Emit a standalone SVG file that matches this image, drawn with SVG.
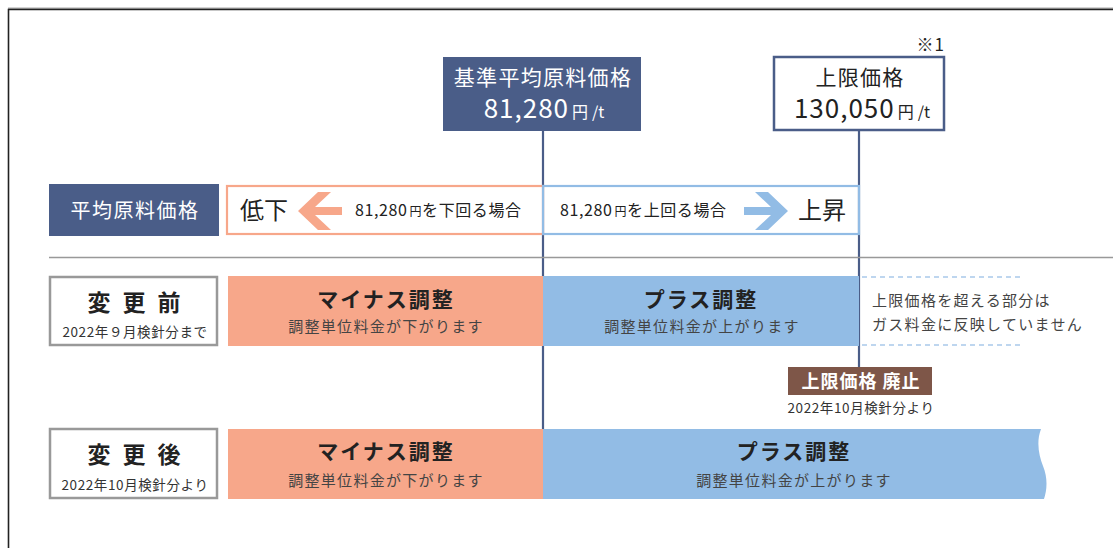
<svg xmlns="http://www.w3.org/2000/svg" width="1113" height="548" viewBox="0 0 1113 548">
<style>
text{font-family:"Noto Sans CJK JP","Noto Sans",sans-serif;fill:#222}
.w{fill:#fff}
.t{font-size:21px;letter-spacing:1.3px}
.num{font-size:26px;letter-spacing:1px}
.unit{font-size:16px}
.big{font-size:23px;font-weight:bold;letter-spacing:12px}
.sm{font-size:13.5px;fill:#333;letter-spacing:0.6px}
.hd{font-size:21px;font-weight:bold;letter-spacing:2px}
.sub{font-size:15px;fill:#444;letter-spacing:1.3px}
.row{font-size:16px;letter-spacing:0.6px}
.navy{fill:#4a5d88}
.pink{fill:#f7a78a}
.blue{fill:#92bce5}
</style>
<rect x="8" y="7.5" width="1105" height="1.5" fill="#aaa"/>
<path d="M8.5,548 V9.5 H1113" fill="none" stroke="#222" stroke-width="1.6"/>
<g id="connectors" stroke="#4a5d88" stroke-width="2.2" fill="none">
<line x1="543" y1="131" x2="543" y2="499"/>
<line x1="859" y1="131" x2="859" y2="367"/>
</g>
<g id="base-price">
<rect x="443" y="57" width="198" height="74" class="navy"/>
<text x="543" y="85" class="t w" text-anchor="middle">基準平均原料価格</text>
<text x="544" y="118" class="w" text-anchor="middle"><tspan class="num w">81,280</tspan><tspan class="unit w" dx="3">円</tspan><tspan class="unit w" dx="4">/t</tspan></text>
</g>
<g id="upper-price">
<text x="945" y="51" font-size="17" letter-spacing="1" text-anchor="end">※1</text>
<rect x="774" y="57" width="170" height="73" fill="#fff" stroke="#4a5d88" stroke-width="2.5"/>
<text x="860" y="85" class="t" text-anchor="middle">上限価格</text>
<text x="862" y="118" text-anchor="middle"><tspan class="num">130,050</tspan><tspan class="unit" dx="3">円</tspan><tspan class="unit" dx="4">/t</tspan></text>
</g>
<g id="avg-label">
<rect x="49" y="184" width="170" height="52" class="navy"/>
<text x="135" y="218" font-size="20" letter-spacing="1.5" class="w" text-anchor="middle">平均原料価格</text>
</g>
<g id="decrease">
<rect x="227" y="186" width="316" height="48" fill="#fff" stroke="#f7a78a" stroke-width="2.2"/>
<text x="240" y="219" font-size="24">低下</text>
<path d="M298,211 L318,192 H331 L315,207 H342 V215 H315 L331,230 H318 Z" class="pink"/>
<text x="355" y="216" class="row">81,280<tspan font-size="12" dx="2">円</tspan>を下回る場合</text>
</g>
<g id="increase">
<rect x="543" y="186" width="316" height="48" fill="none" stroke="#92bce5" stroke-width="2.2"/>
<text x="560" y="216" class="row">81,280<tspan font-size="12" dx="2">円</tspan>を上回る場合</text>
<path d="M788,211 L768,192 H755 L771,207 H744 V215 H771 L755,230 H768 Z" class="blue"/>
<text x="798" y="219" font-size="24">上昇</text>
</g>
<line x1="49" y1="257.5" x2="1113" y2="257.5" stroke="#999" stroke-width="1.3"/>
<g id="before-label">
<rect x="50" y="277" width="167" height="68" fill="#fff" stroke="#999" stroke-width="2.5"/>
<text x="140" y="311" class="big" text-anchor="middle">変更前</text>
<text x="135" y="337" class="sm" text-anchor="middle">2022年９月検針分まで</text>
</g>
<g id="before-minus">
<rect x="228" y="276" width="315" height="70" class="pink"/>
<text x="386" y="307" class="hd" text-anchor="middle">マイナス調整</text>
<text x="386" y="332" class="sub" text-anchor="middle">調整単位料金が下がります</text>
</g>
<g id="before-plus">
<rect x="543" y="276" width="316" height="70" class="blue"/>
<text x="701" y="307" class="hd" text-anchor="middle">プラス調整</text>
<text x="702" y="332" class="sub" text-anchor="middle">調整単位料金が上がります</text>
</g>
<g id="before-note">
<g stroke="#a9c9ea" stroke-width="1.3" stroke-dasharray="5,4">
<line x1="862" y1="277" x2="1022" y2="277"/>
<line x1="862" y1="345" x2="1022" y2="345"/>
</g>
<text x="872" y="306" class="sub">上限価格を超える部分は</text>
<text x="872" y="330" class="sub">ガス料金に反映していません</text>
</g>
<g id="abolish">
<rect x="788" y="367" width="144" height="28" fill="#7e5648"/>
<text x="861" y="388" font-size="18" font-weight="bold" letter-spacing="1" class="w" text-anchor="middle">上限価格 廃止</text>
<text x="861" y="413" class="sm" font-size="14" letter-spacing="1" text-anchor="middle">2022年10月検針分より</text>
</g>
<g id="after-label">
<rect x="50" y="429" width="167" height="69" fill="#fff" stroke="#999" stroke-width="2.5"/>
<text x="140" y="463" class="big" text-anchor="middle">変更後</text>
<text x="135" y="490" class="sm" text-anchor="middle">2022年10月検針分より</text>
</g>
<g id="after-minus">
<rect x="228" y="429" width="315" height="70" class="pink"/>
<text x="386" y="459" class="hd" text-anchor="middle">マイナス調整</text>
<text x="386" y="486" class="sub" text-anchor="middle">調整単位料金が下がります</text>
</g>
<g id="after-plus">
<path d="M543,429 H1041 C1036,442 1039,456 1043,466 C1048,478 1047,490 1044,499 H543 Z" class="blue"/>
<text x="794" y="459" class="hd" text-anchor="middle">プラス調整</text>
<text x="794" y="486" class="sub" text-anchor="middle">調整単位料金が上がります</text>
</g>
</svg>
